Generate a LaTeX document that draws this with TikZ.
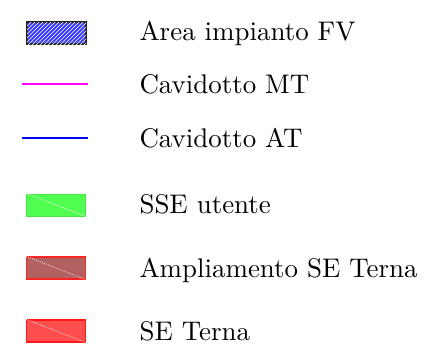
\documentclass[tikz,border=0pt]{standalone}
\usepackage{tikz}
\usetikzlibrary{patterns}
\definecolor{fvblue}{RGB}{60,60,255}
\definecolor{mtpink}{rgb}{1,0,1}
\definecolor{atblue}{RGB}{0,0,255}
\definecolor{sseg}{RGB}{80,255,80}
\definecolor{ampl}{RGB}{178,96,96}
\definecolor{sered}{RGB}{255,78,78}
\tikzset{box/.style={draw,rectangle,inner sep=0pt,minimum width=44pt,minimum height=16.5pt},
  cable/.style={line width=1.4pt},
  lbl/.style={anchor=base west,inner sep=0pt,font=\fontsize{10}{12}\selectfont,scale=2.02},
  cut/.style={white,densely dotted,line width=0.6pt}}
\begin{document}
\begin{tikzpicture}[x=0.75pt,y=-0.75pt]
\useasboundingbox (0,0) rectangle (445,361);
\node[box,fill=fvblue,draw=black!85,line width=1.2pt,
  postaction={pattern=north east lines,pattern color=white!85}] (fv) at (56.5,33) {};
\coordinate (mta) at (22,84);
\coordinate (mtb) at (88,84);
\draw[cable,draw=mtpink] (mta) -- (mtb);
\coordinate (ata) at (22,137.7);
\coordinate (atb) at (88,137.7);
\draw[cable,draw=atblue] (ata) -- (atb);
\node[box,fill=sseg,draw=sseg!90!black] (sse) at (56,205) {};
\node[box,fill=ampl,draw=red!85,line width=1pt] (amp) at (56,268) {};
\node[box,fill=sered,draw=red!90,line width=1pt] (se) at (56,331) {};
\foreach \b in {sse,amp,se}
  \draw[cut] (\b.north west) -- (\b.south east);
\node[lbl] (tfv) at (139,40) {Area impianto FV};
\node[lbl] (tmt) at (139,93.5) {Cavidotto MT};
\node[lbl] (tat) at (139,147) {Cavidotto AT};
\node[lbl] (tsse) at (139,213) {SSE utente};
\node[lbl] (tamp) at (139,277) {Ampliamento SE Terna};
\node[lbl] (tse) at (139,340) {SE Terna};
\end{tikzpicture}
\end{document}
